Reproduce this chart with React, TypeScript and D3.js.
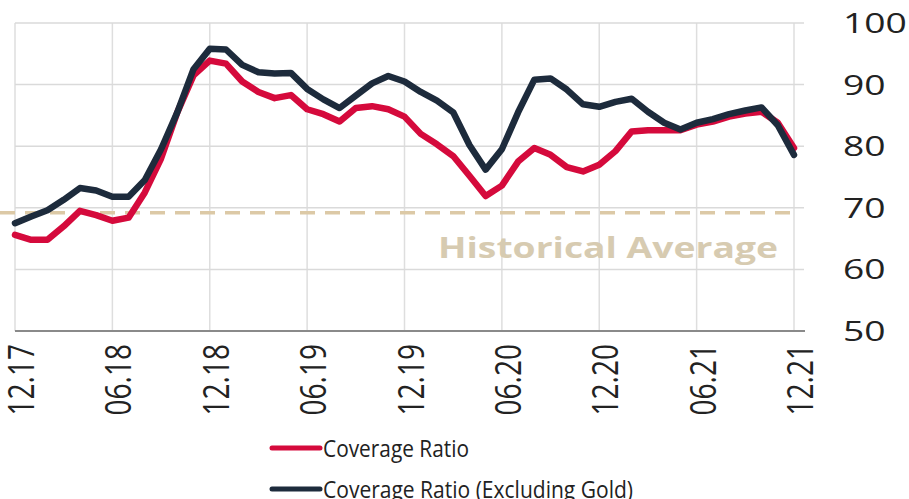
import React from 'react';
import * as d3 from 'd3';

const tickLabels = ["12.17", "06.18", "12.18", "06.19", "12.19", "06.20", "12.20", "06.21", "12.21"];
const yTicks = [50, 60, 70, 80, 90, 100];
const historicalAverage = 69.2;

// Monthly, 12.17 .. 12.21
const coverage = [
  65.6, 64.8, 64.8, 67.0, 69.5, 68.8, 67.9, 68.4, 72.5, 78.0,
  85.5, 91.5, 93.9, 93.4, 90.5, 88.8, 87.8, 88.3, 86.0, 85.2,
  84.0, 86.2, 86.5, 86.0, 84.8, 82.0, 80.3, 78.4, 75.2, 71.9,
  73.6, 77.5, 79.7, 78.6, 76.6, 75.9, 77.0, 79.2, 82.4, 82.6,
  82.6, 82.6, 83.5, 84.0, 84.8, 85.3, 85.6, 83.8, 79.7,
];
const exGold = [
  67.5, 68.6, 69.6, 71.3, 73.2, 72.8, 71.8, 71.8, 74.5, 79.5,
  85.5, 92.5, 95.8, 95.7, 93.2, 92.0, 91.8, 91.9, 89.3, 87.6,
  86.2, 88.2, 90.2, 91.4, 90.5, 88.8, 87.4, 85.5, 80.2, 76.2,
  79.5, 85.5, 90.8, 91.0, 89.2, 86.8, 86.4, 87.2, 87.7, 85.6,
  83.8, 82.7, 83.8, 84.4, 85.2, 85.8, 86.3, 83.4, 78.6,
];

const seriesNames = ["Coverage Ratio", "Coverage Ratio (Excluding Gold)"];
const RED = "#d50a3c";
const NAVY = "#1d2b3c";

export default function App() {
  const W = 909, H = 499;
  const x = d3.scaleLinear().domain([0, 48]).range([15, 794]);
  const y = d3.scaleLinear().domain([50, 100]).range([331, 23]);
  const line = d3.line<number>().x((_, i) => x(i)).y(d => y(d));
  const font = "'Open Sans', 'Noto Sans', sans-serif";
  const tickIdx = tickLabels.map((_, i) => i * 6);

  return (
    <svg width={W} height={H} style={{ position: 'absolute', left: 0, top: 0, background: '#fff' }}
      fontFamily={font}>
      <rect x={0} y={0} width={W} height={H} fill="#fff" />
      {tickIdx.map(i => (
        <line key={'v' + i} x1={x(i)} x2={x(i)} y1={y(100)} y2={y(50)} stroke="#dedede" strokeWidth={1.5} />
      ))}
      {yTicks.filter(v => v > 50).map(v => (
        <line key={'h' + v} x1={x(0)} x2={804} y1={y(v)} y2={y(v)} stroke="#dadada" strokeWidth={1.5} />
      ))}
      <line x1={x(0)} x2={805} y1={y(50)} y2={y(50)} stroke="#8a8a8a" strokeWidth={2} />
      <line x1={0} x2={800} y1={y(historicalAverage)} y2={y(historicalAverage)}
        stroke="#dcc9a6" strokeWidth={3.5} strokeDasharray="15 10" />
      <text x={438} y={258} fontSize={28} fontWeight={700} fill="#d7cbb1"
        textLength={340} lengthAdjust="spacingAndGlyphs">Historical Average</text>
      <path d={line(coverage) || ''} fill="none" stroke={RED} strokeWidth={6.5} strokeLinejoin="round" strokeLinecap="round" />
      <path d={line(exGold) || ''} fill="none" stroke={NAVY} strokeWidth={6.5} strokeLinejoin="round" strokeLinecap="round" />
      {yTicks.map(v => (
        <text key={'yl' + v} transform={`translate(843,${y(v) + 10}) scale(1.33,1)`} fontSize={28} fill="#222">{v}</text>
      ))}
      {tickIdx.map((i, k) => (
        <text key={'xl' + i} transform={`translate(${x(i) + 19},344) rotate(-90) scale(1,1.3)`}
          textAnchor="end" fontSize={28} fill="#222">{tickLabels[k]}</text>
      ))}
      <line x1={272} x2={320} y1={448} y2={448} stroke={RED} strokeWidth={5} strokeLinecap="round" />
      <text x={323} y={457} fontSize={23} fill="#222" textLength={146} lengthAdjust="spacingAndGlyphs">{seriesNames[0]}</text>
      <line x1={272} x2={320} y1={489} y2={489} stroke={NAVY} strokeWidth={5} strokeLinecap="round" />
      <text x={323} y={498} fontSize={23} fill="#222" textLength={310} lengthAdjust="spacingAndGlyphs">{seriesNames[1]}</text>
    </svg>
  );
}
